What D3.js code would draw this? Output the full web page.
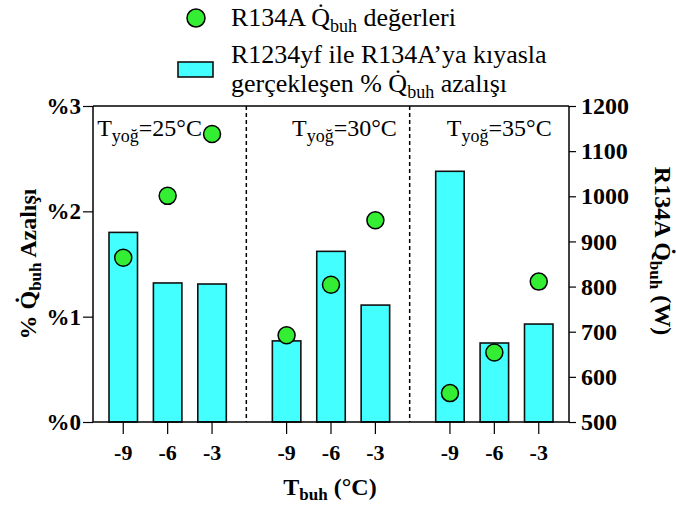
<!DOCTYPE html>
<html>
<head>
<meta charset="utf-8">
<script src="https://cdn.jsdelivr.net/npm/d3@7"></script>
</head>
<body style="margin:0">
<svg id="chart" width="676" height="508"></svg>
<script>
// ---- data ----
const groups = ["25", "30", "35"];               // T_yoğ (°C)
const tbuh = ["-9", "-6", "-3"];                  // T_buh (°C)
const reduction = [                               // % Q̇buh azalışı (bars, left axis)
  [1.80, 1.32, 1.31],
  [0.77, 1.62, 1.11],
  [2.38, 0.75, 0.93]
];
const qbuh = [                                    // R134A Q̇buh (W) (points, right axis)
  [864, 1001, 1138],
  [692, 804, 947],
  [564, 654, 811]
];
const leftTicks = [0, 1, 2, 3];
const rightTicks = [500, 600, 700, 800, 900, 1000, 1100, 1200];

// ---- layout ----
const svg = d3.select("#chart");
const FONT = '"Liberation Serif"';
const L = 93, R = 569, T = 106, B = 422;
const Q = "Q\u0307";

const xGroup = d3.scalePoint().domain(groups).range([L, R]).padding(0.457);
const xInner = d3.scalePoint().domain(tbuh).range([-44.4, 44.4]);
const barW = 28.5;
const yL = d3.scaleLinear().domain([0, 3]).range([B, T]);
const yR = d3.scaleLinear().domain([500, 1200]).range([B, T]);

const flat = [];
groups.forEach((g, gi) => tbuh.forEach((t, ti) => flat.push({
  g, t, x: xGroup(g) + xInner(t), red: reduction[gi][ti], q: qbuh[gi][ti]
})));

// bars
svg.append("g").selectAll("rect").data(flat).join("rect")
  .attr("x", d => d.x - barW / 2)
  .attr("y", d => yL(d.red))
  .attr("width", barW)
  .attr("height", d => B - yL(d.red))
  .attr("fill", "#44ffff")
  .attr("stroke", "#111")
  .attr("stroke-width", 1.6);

// dashed dividers
const step = xGroup.step();
svg.append("g").selectAll("line").data(groups.slice(0, -1)).join("line")
  .attr("x1", g => xGroup(g) + step / 2 - 3)
  .attr("x2", g => xGroup(g) + step / 2 - 3)
  .attr("y1", T).attr("y2", B)
  .attr("stroke", "#000").attr("stroke-width", 1.5)
  .attr("stroke-dasharray", "4,3");

// frame: top line
svg.append("line").attr("x1", L).attr("x2", R).attr("y1", T).attr("y2", T)
  .attr("stroke", "#000").attr("stroke-width", 1.5);

// left axis
const axL = svg.append("g").attr("transform", `translate(${L},0)`)
  .call(d3.axisLeft(yL).tickValues(leftTicks).tickFormat(d => "%" + d).tickSize(10).tickPadding(2));
// right axis
const axR = svg.append("g").attr("transform", `translate(${R},0)`)
  .call(d3.axisRight(yR).tickValues(rightTicks).tickFormat(d3.format("d")).tickSize(7).tickPadding(5));
// bottom axis
const axB = svg.append("g").attr("transform", `translate(0,${B})`);
axB.append("line").attr("x1", L).attr("x2", R).attr("stroke", "#000").attr("stroke-width", 1.5);
const bt = axB.selectAll("g.tick").data(flat).join("g").attr("class", "tick")
  .attr("transform", d => `translate(${d.x},0)`);
bt.append("line").attr("y2", 12).attr("stroke", "#000").attr("stroke-width", 1.2);
bt.append("text").attr("y", 38).attr("text-anchor", "middle")
  .style("font-size", "22px").style("font-weight", "bold").text(d => d.t);

[axL, axR].forEach(a => {
  a.attr("font-family", "Liberation Serif");
  a.select(".domain").attr("stroke-width", 1.5);
  a.selectAll(".tick line").attr("stroke-width", 1.2);
  a.selectAll(".tick text").style("font-weight", "bold");
});
axL.selectAll(".tick text").style("font-size", "23px");
axR.selectAll(".tick text").style("font-size", "24px");
axL.select(".domain").attr("d", `M0,${T}V${B}`);
axR.select(".domain").attr("d", `M0,${T}V${B}`);

// points
svg.append("g").selectAll("circle").data(flat).join("circle")
  .attr("cx", d => d.x).attr("cy", d => yR(d.q)).attr("r", 8.5)
  .attr("fill", "#33ee33").attr("stroke", "#000").attr("stroke-width", 1.5);

// group labels
const labelDx = [-70.5, -39, -47.5];
groups.forEach((g, gi) => {
  const t = svg.append("text").attr("x", xGroup(g) + labelDx[gi]).attr("y", 136)
    .style("font-size", "24px");
  t.append("tspan").text("T");
  t.append("tspan").attr("dy", 6).style("font-size", "18px").text("yoğ");
  t.append("tspan").attr("dy", -6).text("=" + g + "°C");
});

// axis titles
const lt = svg.append("text").attr("transform", `translate(36,${(T + B) / 2}) rotate(-90)`)
  .attr("text-anchor", "middle").style("font-size", "24px").style("font-weight", "bold");
lt.append("tspan").text("% " + Q);
lt.append("tspan").attr("dy", 5).style("font-size", "17px").text("buh");
lt.append("tspan").attr("dy", -5).text(" Azalışı");

const rt = svg.append("text").attr("transform", `translate(655,251) rotate(90)`)
  .attr("text-anchor", "middle").style("font-size", "24px").style("font-weight", "bold");
rt.append("tspan").text("R134A " + Q);
rt.append("tspan").attr("dy", 5).style("font-size", "17px").text("buh");
rt.append("tspan").attr("dy", -5).text(" (W)");

const bx = svg.append("text").attr("x", 330).attr("y", 495)
  .attr("text-anchor", "middle").style("font-size", "24px").style("font-weight", "bold");
bx.append("tspan").text("T");
bx.append("tspan").attr("dy", 5).style("font-size", "17px").text("buh");
bx.append("tspan").attr("dy", -5).text(" (°C)");

// legend
const lg = svg.append("g");
lg.append("circle").attr("cx", 196).attr("cy", 18).attr("r", 9)
  .attr("fill", "#33ee33").attr("stroke", "#000").attr("stroke-width", 1.5);
const l1 = lg.append("text").attr("x", 231).attr("y", 26).style("font-size", "26px");
l1.append("tspan").text("R134A " + Q);
l1.append("tspan").attr("dy", 6).style("font-size", "18px").text("buh");
l1.append("tspan").attr("dy", -6).text(" değerleri");
lg.append("rect").attr("x", 178).attr("y", 62).attr("width", 35).attr("height", 15)
  .attr("fill", "#44ffff").attr("stroke", "#111").attr("stroke-width", 1.6);
lg.append("text").attr("x", 231).attr("y", 63).style("font-size", "26px")
  .text("R1234yf ile R134A’ya kıyasla");
const l3 = lg.append("text").attr("x", 231).attr("y", 92).style("font-size", "26px");
l3.append("tspan").text("gerçekleşen % " + Q);
l3.append("tspan").attr("dy", 6).style("font-size", "18px").text("buh");
l3.append("tspan").attr("dy", -6).text(" azalışı");

// font on every text
svg.selectAll("text").attr("font-family", "Liberation Serif").style("font-family", FONT);
</script>
</body>
</html>
